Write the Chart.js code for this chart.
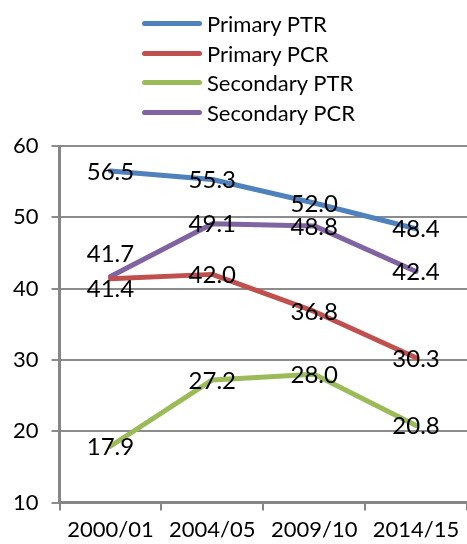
<!DOCTYPE html>
<html>
<head>
<meta charset="utf-8">
<script src="https://cdn.jsdelivr.net/npm/chart.js@4"></script>
<style>
  body { margin: 0; background: #fff; }
  #wrap { position: relative; width: 467px; height: 544px; }
  #legend { position: absolute; left: 142px; top: 9px; font-family: Lato, sans-serif; font-size: 22px; color: #000; }
  #legend .row { display: flex; align-items: center; height: 29.6px; }
  #legend .swatch { width: 60px; height: 5px; border-radius: 3px; margin-right: 5px; }
</style>
</head>
<body>
<div id="wrap">
  <canvas id="grafico" width="467" height="544"></canvas>
  <div id="legend"></div>
</div>
<script>
const categorias = ["2000/01", "2004/05", "2009/10", "2014/15"];
const primaryPTR = [56.5, 55.3, 52.0, 48.4];
const primaryPCR = [41.4, 42.0, 36.8, 30.3];
const secondaryPTR = [17.9, 27.2, 28.0, 20.8];
const secondaryPCR = [41.7, 49.1, 48.8, 42.4];

const series = [
  { label: "Primary PTR", data: primaryPTR, color: "#4F81BD" },
  { label: "Primary PCR", data: primaryPCR, color: "#C0504D" },
  { label: "Secondary PTR", data: secondaryPTR, color: "#9BBB59" },
  { label: "Secondary PCR", data: secondaryPCR, color: "#8064A2" }
];

// desplazamiento vertical de algunas etiquetas (como en el original)
const ajusteEtiquetas = { "1-0": 10, "3-0": -23 };

const etiquetasPlugin = {
  id: "etiquetas",
  afterDatasetsDraw(chart) {
    const ctx = chart.ctx;
    ctx.save();
    ctx.font = "24px Lato";
    ctx.fillStyle = "#000";
    ctx.textAlign = "center";
    ctx.textBaseline = "middle";
    chart.data.datasets.forEach((ds, i) => {
      chart.getDatasetMeta(i).data.forEach((pt, j) => {
        const dy = ajusteEtiquetas[i + "-" + j] || 0;
        ctx.fillText(ds.data[j].toFixed(1), pt.x, pt.y + 1 + dy);
      });
    });
    ctx.restore();
  }
};

const legend = document.getElementById("legend");
series.forEach(s => {
  const row = document.createElement("div");
  row.className = "row";
  row.innerHTML = '<span class="swatch" style="background:' + s.color + '"></span>' + s.label;
  legend.appendChild(row);
});

new Chart(document.getElementById("grafico"), {
  type: "line",
  data: {
    labels: categorias,
    datasets: series.map(s => ({
      label: s.label,
      data: s.data,
      borderColor: s.color,
      backgroundColor: s.color,
      borderWidth: 5,
      pointRadius: 0,
      tension: 0,
      borderJoinStyle: "round",
      borderCapStyle: "round"
    }))
  },
  options: {
    responsive: false,
    animation: false,
    layout: { padding: { top: 146, right: 0, left: 0, bottom: -5 } },
    plugins: {
      legend: { display: false },
      tooltip: { enabled: false }
    },
    scales: {
      x: {
        offset: true,
        grid: { offset: true, drawOnChartArea: false, color: "#868686", lineWidth: 2, tickLength: 8 },
        border: { color: "#868686", width: 3 },
        ticks: { color: "#000", font: { family: "Lato", size: 22 }, padding: 6, maxRotation: 0 }
      },
      y: {
        min: 10,
        max: 60,
        ticks: { stepSize: 10, color: "#000", font: { family: "Lato", size: 22 }, padding: 13 },
        grid: { color: "#8c8c8c", lineWidth: 2, tickLength: 8 },
        border: { color: "#868686", width: 3 }
      }
    }
  },
  plugins: [etiquetasPlugin]
});
</script>
</body>
</html>
